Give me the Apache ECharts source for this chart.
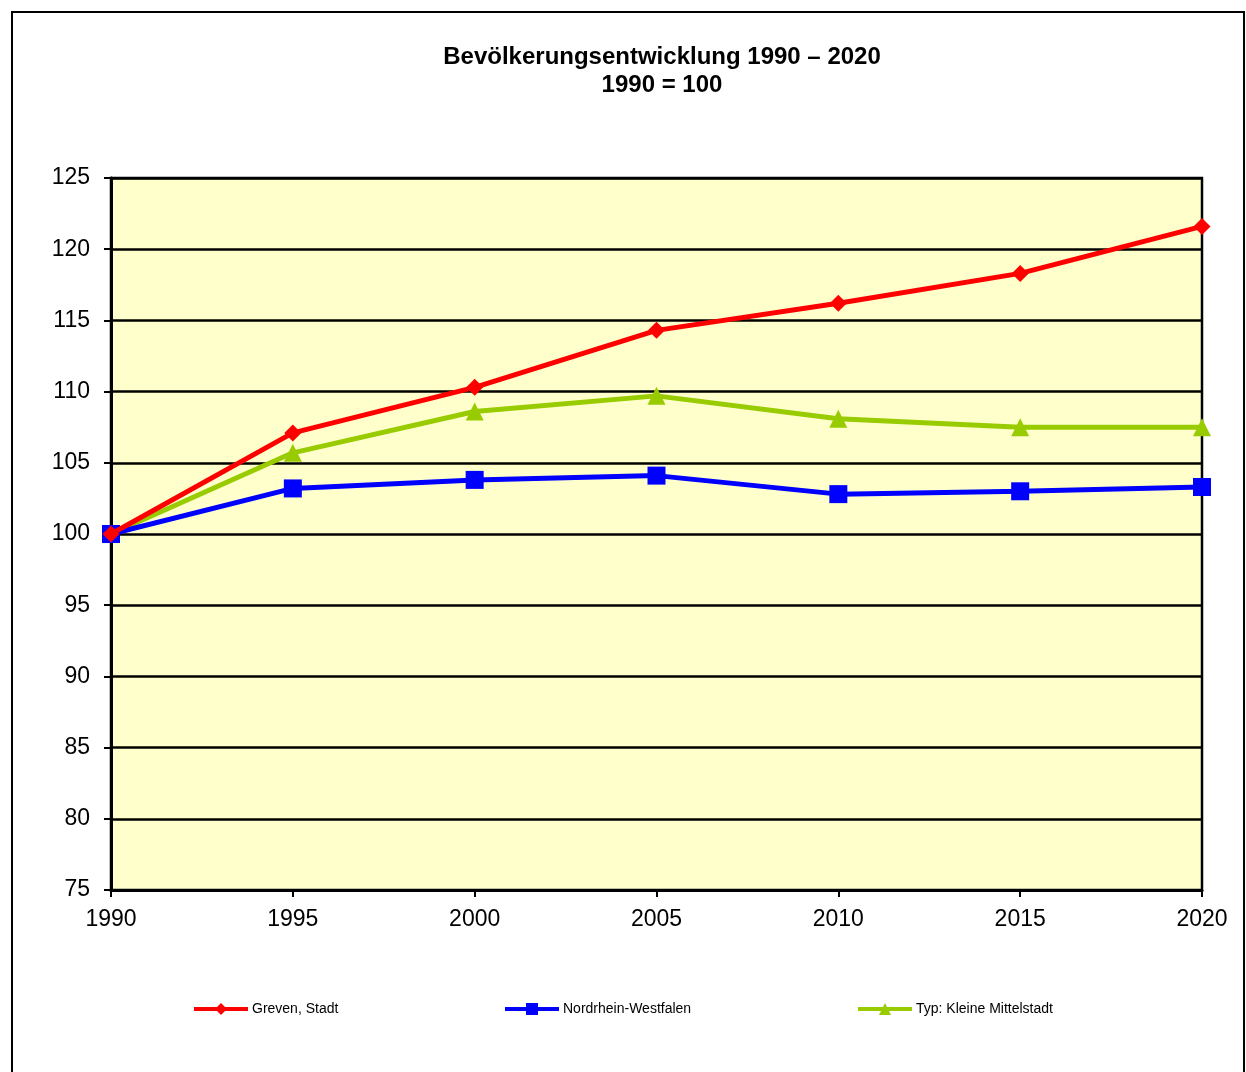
<!DOCTYPE html>
<html>
<head>
<meta charset="utf-8">
<script src="https://cdn.jsdelivr.net/npm/echarts@6/dist/echarts.min.js"></script>
<style>html,body{margin:0;padding:0;background:#fff;}#c{width:1246px;height:1072px;}</style>
</head>
<body>
<div id="c"></div>
<script>
const years = ['1990','1995','2000','2005','2010','2015','2020'];
const greven = [100, 107.1, 110.3, 114.3, 116.2, 118.3, 121.6];
const nrw = [100, 103.2, 103.8, 104.1, 102.8, 103.0, 103.3];
const kleineMittelstadt = [100, 105.7, 108.6, 109.7, 108.1, 107.5, 107.5];
const yTicks = [75, 125, 5];
const seriesNames = ['Greven, Stadt', 'Nordrhein-Westfalen', 'Typ: Kleine Mittelstadt'];

const chart = echarts.init(document.getElementById('c'), null, {renderer: 'canvas'});
const font = 'Liberation Sans, Arial, sans-serif';
function legendAt(name, left) {
  return {
    data: [name], left: left, top: 1002, itemWidth: 54, itemHeight: 15,
    itemGap: 5, padding: 0,
    lineStyle: {width: 4},
    textStyle: {fontFamily: font, fontSize: 14, color: '#000', padding: [0,0,0,-1]}
  };
}
chart.setOption({
  backgroundColor: '#fff',
  animation: false,
  title: {
    text: 'Bevölkerungsentwicklung 1990 – 2020\n1990 = 100',
    left: 657, top: 38, textAlign: 'center',
    textStyle: {fontFamily: font, fontSize: 24, fontWeight: 'bold', color: '#000', lineHeight: 28}
  },
  graphic: [{
    type: 'rect', silent: true,
    shape: {x: 12, y: 12, width: 1232, height: 1100},
    style: {fill: 'none', stroke: '#000', lineWidth: 2}
  }],
  legend: [
    legendAt(seriesNames[0], 192),
    legendAt(seriesNames[1], 503),
    legendAt(seriesNames[2], 856)
  ],
  grid: {
    left: 111, right: 44, top: 178, bottom: 182,
    show: true, backgroundColor: '#FFFFCC', borderColor: '#000', borderWidth: 2.5
  },
  xAxis: {
    type: 'category', data: years, boundaryGap: false,
    axisLine: {lineStyle: {color: '#000', width: 3}},
    axisTick: {show: true, length: 7, lineStyle: {color: '#000', width: 2}, alignWithLabel: true},
    axisLabel: {fontFamily: font, fontSize: 23, color: '#000', margin: 18},
    splitLine: {show: false}
  },
  yAxis: {
    type: 'value', min: yTicks[0], max: yTicks[1], interval: yTicks[2],
    axisLine: {show: true, lineStyle: {color: '#000', width: 3}},
    axisTick: {show: true, length: 7, lineStyle: {color: '#000', width: 2}},
    axisLabel: {fontFamily: font, fontSize: 23, color: '#000', margin: 21},
    splitLine: {show: true, lineStyle: {color: '#000', width: 2.5}}
  },
  series: [
    {name: seriesNames[0], type: 'line', data: greven, symbol: 'diamond', symbolSize: 17,
     lineStyle: {color: '#FF0000', width: 5}, itemStyle: {color: '#FF0000'}, z: 4},
    {name: seriesNames[1], type: 'line', data: nrw, symbol: 'rect', symbolSize: 18,
     lineStyle: {color: '#0000FF', width: 5}, itemStyle: {color: '#0000FF'}, z: 3},
    {name: seriesNames[2], type: 'line', data: kleineMittelstadt, symbol: 'triangle', symbolSize: 18,
     lineStyle: {color: '#99CC00', width: 5}, itemStyle: {color: '#99CC00'}, z: 2}
  ]
});
</script>
</body>
</html>
